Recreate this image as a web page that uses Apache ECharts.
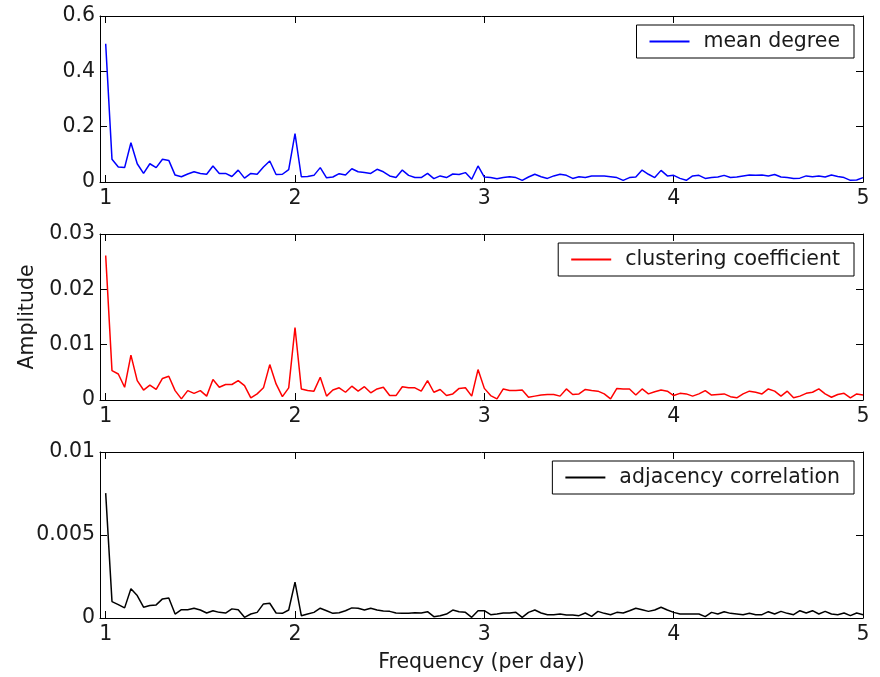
<!DOCTYPE html>
<html>
<head>
<meta charset="utf-8">
<title>Spectral amplitude of network measures</title>
<script src="https://cdn.jsdelivr.net/npm/echarts@6/dist/echarts.min.js"></script>
<style>
  html, body { margin: 0; padding: 0; background: #fff; }
  #chart { width: 880px; height: 677px; }
</style>
</head>
<body>
<div id="chart"></div>
<script>
// Spectra sampled every 1/30 per day, from 1 to 5 per day (121 samples)
const FREQ_START = 1;
const FREQ_STEP = 1 / 30;

const meanDegree = [
  0.50, 0.082, 0.054, 0.052, 0.142, 0.066, 0.031, 0.066, 0.052, 0.082,
  0.078, 0.025, 0.019, 0.029, 0.037, 0.031, 0.028, 0.058, 0.031, 0.031,
  0.020, 0.043, 0.014, 0.031, 0.028, 0.054, 0.076, 0.027, 0.028, 0.045,
  0.175, 0.019, 0.020, 0.024, 0.052, 0.015, 0.018, 0.030, 0.025, 0.048,
  0.037,
  0.034, 0.031, 0.046, 0.037, 0.022, 0.016, 0.043, 0.024, 0.016, 0.016,
  0.031, 0.012, 0.022, 0.016, 0.029, 0.027, 0.034, 0.010, 0.058,
  0.018, 0.016, 0.012, 0.016, 0.019, 0.016, 0.006, 0.018, 0.028, 0.019,
  0.013, 0.022, 0.028, 0.024, 0.013, 0.019, 0.016, 0.022,
  0.022, 0.022, 0.019, 0.016, 0.006, 0.016, 0.018, 0.043, 0.028, 0.016,
  0.042, 0.022,
  0.024, 0.013, 0.006, 0.022, 0.024, 0.013, 0.016, 0.018, 0.024, 0.016,
  0.018, 0.022, 0.025, 0.024, 0.025, 0.022, 0.027, 0.018, 0.016, 0.013,
  0.014, 0.022, 0.019, 0.022, 0.018, 0.025, 0.020, 0.016, 0.006, 0.007,
  0.016
];

const clusteringCoeff = [
  0.0261, 0.0053, 0.0047, 0.0023, 0.0081, 0.0035, 0.0018, 0.0027, 0.0019, 0.0039,
  0.0043, 0.0017, 0.0002, 0.0017, 0.0012, 0.0017, 0.0007, 0.0037, 0.0023, 0.0028,
  0.0028, 0.0035, 0.0026, 0.0004, 0.0011, 0.0022, 0.0064, 0.0029, 0.0006, 0.0022,
  0.0131, 0.0020, 0.0017, 0.0016, 0.0041, 0.0007, 0.0018, 0.0022, 0.0014, 0.0025,
  0.0016,
  0.0024, 0.0013, 0.0020, 0.0023, 0.0008, 0.0008, 0.0024, 0.0022, 0.0022, 0.0016,
  0.0035, 0.0014, 0.0019, 0.0008, 0.0011, 0.0021, 0.0022, 0.0007, 0.0055,
  0.0021, 0.0008, 0.0002, 0.0020, 0.0017, 0.0017, 0.0018, 0.0005, 0.0007, 0.0009,
  0.0010, 0.0010, 0.0007, 0.0020, 0.0010, 0.0011, 0.0019, 0.0017,
  0.0016, 0.0011, 0.0002, 0.0021, 0.0020, 0.0020, 0.0009, 0.0020, 0.0011, 0.0015,
  0.0018, 0.0016,
  0.0008, 0.0012, 0.0011, 0.0007, 0.0011, 0.0017, 0.0009, 0.0010, 0.0011, 0.0006,
  0.0004, 0.0011, 0.0016, 0.0014, 0.0011, 0.0020, 0.0016, 0.0007, 0.0016, 0.0004,
  0.0007, 0.0012, 0.0014, 0.0020, 0.0011, 0.0005, 0.0010, 0.0012, 0.0004, 0.0011,
  0.0009
];

const adjacencyCorr = [
  0.00752, 0.00099, 0.00081, 0.00061, 0.00176, 0.00135, 0.00065, 0.00075, 0.00079, 0.00115,
  0.00121, 0.00024, 0.00050, 0.00050, 0.00059, 0.00048, 0.00030, 0.00044, 0.00034, 0.00030,
  0.00055, 0.00050, 0.00004, 0.00024, 0.00034, 0.00085, 0.00089, 0.00030, 0.00028, 0.00048,
  0.00216, 0.00014, 0.00024, 0.00034, 0.00059, 0.00044, 0.00028, 0.00032, 0.00044, 0.00061,
  0.00059,
  0.00048, 0.00059, 0.00048, 0.00042, 0.00040, 0.00030, 0.00028, 0.00028, 0.00032, 0.00030,
  0.00038, 0.00008, 0.00014, 0.00024, 0.00048, 0.00038, 0.00034, 0.00004, 0.00044,
  0.00044, 0.00020, 0.00024, 0.00030, 0.00030, 0.00034, 0.00004, 0.00034, 0.00048, 0.00030,
  0.00020, 0.00020, 0.00024, 0.00018, 0.00018, 0.00014, 0.00030, 0.00010,
  0.00040, 0.00028, 0.00020, 0.00034, 0.00030, 0.00044, 0.00059, 0.00050, 0.00040, 0.00048,
  0.00065, 0.00048,
  0.00034, 0.00024, 0.00024, 0.00024, 0.00024, 0.00008, 0.00034, 0.00024, 0.00038, 0.00028,
  0.00024, 0.00020, 0.00028, 0.00020, 0.00020, 0.00038, 0.00024, 0.00040, 0.00028, 0.00020,
  0.00044, 0.00030, 0.00044, 0.00024, 0.00040, 0.00024, 0.00020, 0.00030, 0.00014, 0.00030,
  0.00020
];

const seriesNames = ['mean degree', 'clustering coefficient', 'adjacency correlation'];
const seriesColors = ['#0000ff', '#ff0000', '#000000'];
const yMaxes = [0.6, 0.03, 0.01];
const yIntervals = [0.2, 0.01, 0.005];
const xTickValues = [1, 2, 3, 4, 5];
const xAxisTitle = 'Frequency (per day)';
const yAxisTitle = 'Amplitude';

const X_MIN = 0.97;
const X_MAX = 5;
const FONT = 'DejaVu Sans';
const FONT_SIZE = 20.5;
const TEXT_COLOR = '#1a1a1a';
const AXIS_COLOR = '#000';

const gridTops = [16, 234, 452];
const gridHeight = 166;

function pairs(values) {
  return values.map((v, i) => [FREQ_START + i * FREQ_STEP, v]);
}

const labelStyle = { color: TEXT_COLOR, fontSize: FONT_SIZE, fontFamily: FONT };
const lineAxisStyle = { show: true, onZero: false, lineStyle: { color: AXIS_COLOR, width: 1 } };
const tickStyle = { show: true, inside: true, length: 7, lineStyle: { color: AXIS_COLOR, width: 1 } };

const grids = gridTops.map(t => ({ left: 100, right: 17, top: t, height: gridHeight, containLabel: false }));

const xAxes = [];
const yAxes = [];
gridTops.forEach((_, g) => {
  const isLast = g === gridTops.length - 1;
  xAxes.push({
    type: 'value', gridIndex: g, position: 'bottom', min: X_MIN, max: X_MAX,
    axisLine: lineAxisStyle,
    axisTick: Object.assign({}, tickStyle, { customValues: xTickValues }),
    axisLabel: Object.assign({ show: true, margin: 6, customValues: xTickValues }, labelStyle),
    splitLine: { show: false },
    name: isLast ? xAxisTitle : '',
    nameLocation: 'middle', nameGap: 34,
    nameTextStyle: labelStyle
  });
  xAxes.push({
    type: 'value', gridIndex: g, position: 'top', min: X_MIN, max: X_MAX,
    axisLine: lineAxisStyle,
    axisTick: Object.assign({}, tickStyle, { customValues: xTickValues }),
    axisLabel: { show: false },
    splitLine: { show: false }
  });
  yAxes.push({
    type: 'value', gridIndex: g, position: 'left', min: 0, max: yMaxes[g], interval: yIntervals[g],
    axisLine: lineAxisStyle,
    axisTick: tickStyle,
    axisLabel: Object.assign({ show: true, margin: 5 }, labelStyle),
    splitLine: { show: false },
    name: g === 1 ? yAxisTitle : '',
    nameLocation: 'middle', nameGap: 60,
    nameTextStyle: labelStyle
  });
  yAxes.push({
    type: 'value', gridIndex: g, position: 'right', min: 0, max: yMaxes[g], interval: yIntervals[g],
    axisLine: lineAxisStyle,
    axisTick: tickStyle,
    axisLabel: { show: false },
    splitLine: { show: false }
  });
});

const dataSets = [meanDegree, clusteringCoeff, adjacencyCorr];
const series = dataSets.map((vals, g) => ({
  name: seriesNames[g],
  type: 'line',
  xAxisIndex: g * 2,
  yAxisIndex: g * 2,
  data: pairs(vals),
  showSymbol: false,
  symbol: 'none',
  color: seriesColors[g],
  lineStyle: { color: seriesColors[g], width: 1.5 },
  emphasis: { disabled: true },
  animation: false
}));

const legends = seriesNames.map((name, g) => ({
  data: [name],
  right: 26,
  top: gridTops[g] + 9,
  icon: 'rect',
  itemWidth: 40,
  itemHeight: 2,
  selectedMode: false,
  backgroundColor: '#fff',
  borderColor: AXIS_COLOR,
  borderWidth: 1,
  borderRadius: 0,
  padding: [6, 14, 6, 13],
  textStyle: Object.assign({ padding: [0, 0, 0, 9], lineHeight: 21 }, labelStyle)
}));

const chart = echarts.init(document.getElementById('chart'), null, { renderer: 'canvas' });
chart.setOption({
  backgroundColor: '#fff',
  animation: false,
  grid: grids,
  xAxis: xAxes,
  yAxis: yAxes,
  legend: legends,
  series: series
});
</script>
</body>
</html>
